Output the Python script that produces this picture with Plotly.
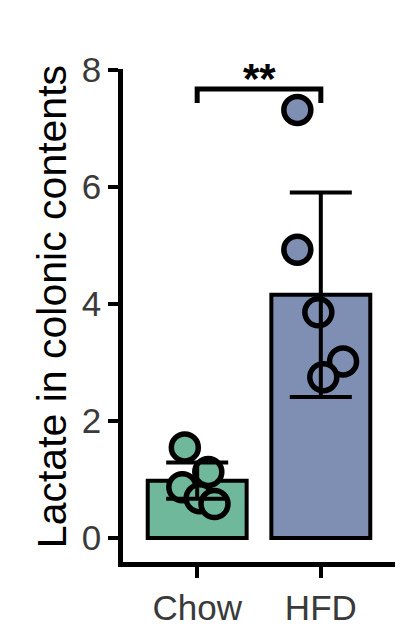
import plotly.graph_objects as go

# ---- data ----
categories = ["Chow", "HFD"]
means = [0.98, 4.16]
sds = [0.31, 1.75]
chow_points = [1.55, 1.13, 0.87, 0.68, 0.58]
hfd_points = [7.32, 4.93, 3.86, 3.02, 2.75]
y_ticks = [0, 2, 4, 6, 8]
y_title = "Lactate in colonic contents"
sig_label = "**"

# ---- styles / positions ----
bar_colors = ["#6fb89b", "#7f8fb3"]
chow_jitter = [-0.10, 0.09, -0.12, 0.02, 0.14]
hfd_jitter = [-0.19, -0.19, -0.02, 0.18, 0.02]
font_family = "Liberation Sans, Arial, Helvetica, sans-serif"

fig = go.Figure()

fig.add_trace(go.Bar(
    x=[0, 1], y=means, width=0.8,
    marker=dict(color=bar_colors, line=dict(color="black", width=4)),
    showlegend=False, hoverinfo="skip",
))

for i, (pts, jit) in enumerate([(chow_points, chow_jitter), (hfd_points, hfd_jitter)]):
    fig.add_trace(go.Scatter(
        x=[i + j for j in jit], y=pts, mode="markers",
        marker=dict(size=27, color=bar_colors[i], line=dict(color="black", width=5.5)),
        showlegend=False, cliponaxis=False,
    ))

# error bars on top of points
fig.add_trace(go.Scatter(
    x=[0, 1], y=means, mode="markers",
    marker=dict(size=1, opacity=0),
    error_y=dict(type="data", array=sds, visible=True, color="black", thickness=4, width=31),
    showlegend=False, hoverinfo="skip",
))

# significance bracket
by, bt = 7.44, 7.68
fig.add_shape(type="path", xref="x", yref="y",
              path=f"M 0,{by} L 0,{bt} L 1,{bt} L 1,{by}",
              line=dict(color="black", width=5))
fig.add_annotation(x=0.5, y=bt, xref="x", yref="y", text=f"<b>{sig_label}</b>",
                   showarrow=False, yanchor="bottom", yshift=-15,
                   font=dict(size=42, color="black", family=font_family))

# y-axis title placed as rotated annotation
fig.add_annotation(x=-0.261, y=0.517, xref="paper", yref="paper", text=y_title,
                   showarrow=False, textangle=-90, xanchor="center", yanchor="middle",
                   font=dict(size=41, color="black", family=font_family))

fig.update_layout(
    width=419, height=627,
    margin=dict(l=123, r=24, t=69, b=65, autoexpand=False),
    plot_bgcolor="white", paper_bgcolor="white",
    font=dict(family=font_family, color="#3a3a3a"),
    bargap=0.2,
)
fig.update_xaxes(
    range=[-0.6, 1.6], tickvals=[0, 1], ticktext=categories,
    showline=True, linecolor="black", linewidth=4.5, automargin=False,
    ticks="outside", ticklen=11, tickwidth=4, tickcolor="black",
    tickfont=dict(size=35, color="#3a3a3a"), showgrid=False, zeroline=False,
)
fig.update_yaxes(
    range=[-0.41, 8.02], tickvals=y_ticks, automargin=False,
    showline=True, linecolor="black", linewidth=4.5,
    ticks="outside", ticklen=10, tickwidth=4, tickcolor="black",
    tickfont=dict(size=35, color="#3a3a3a"), showgrid=False, zeroline=False,
)

fig.write_html("out.html", config={"displayModeBar": False},
               post_script="document.body.style.margin='0';document.body.style.overflow='hidden';")
